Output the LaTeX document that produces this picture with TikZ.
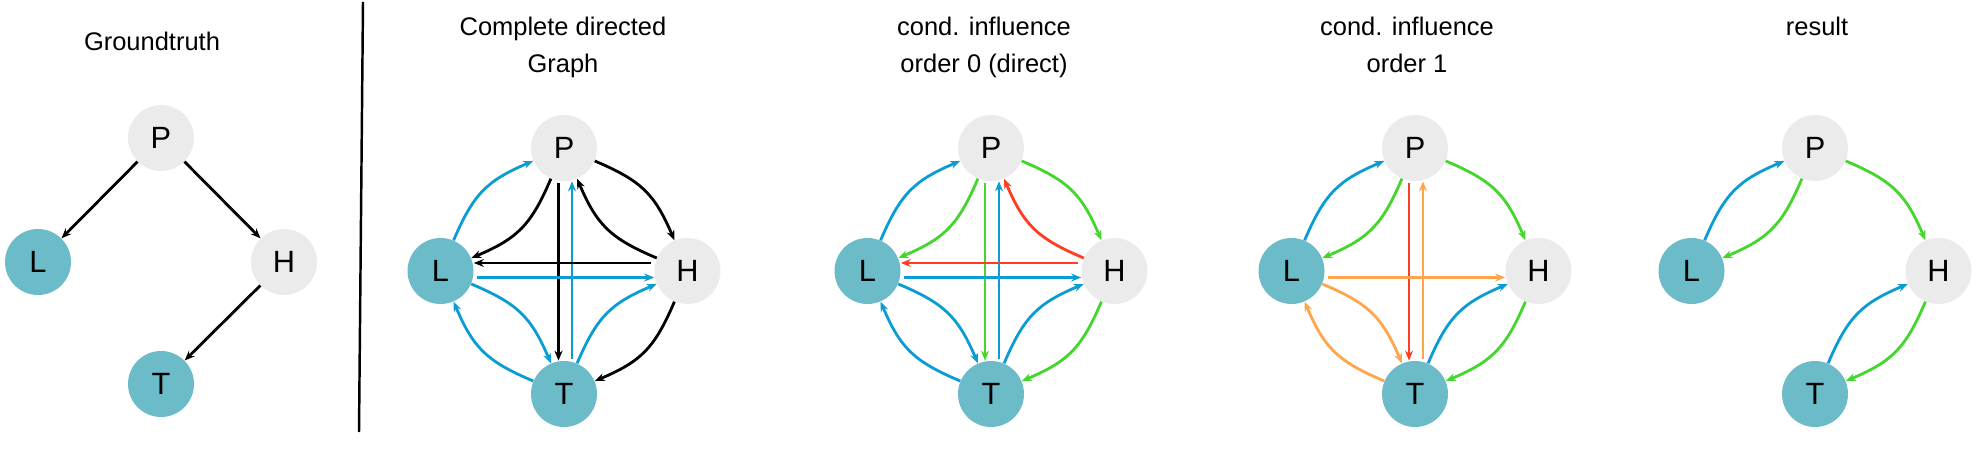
\documentclass[tikz,border=0pt]{standalone}
\usepackage{fontspec}
\setmainfont{Liberation Sans}
\usetikzlibrary{arrows.meta}

\definecolor{cblue}{HTML}{0A9CD2}
\definecolor{cgreen}{HTML}{44D62C}
\definecolor{cred}{HTML}{FF3D22}
\definecolor{corange}{HTML}{FFA64D}
\definecolor{nodeteal}{HTML}{6BBBC9}
\definecolor{nodegray}{HTML}{EBEBEB}

\newcommand{\letterfont}{\fontsize{17.5}{20}\selectfont}
\newcommand{\headfont}{\fontsize{14.5}{21}\selectfont}

\tikzset{
    obs/.style={circle, fill=nodeteal, minimum size=1.32cm, inner sep=0pt, font=\letterfont},
    hid/.style={obs, fill=nodegray},
    edge/.style={-{Stealth[length=0.2cm,width=0.16cm]}, line width=1.6pt},
    curved/.style={edge, bend left=22, looseness=1.15},
    head/.style={font=\headfont, align=center, inner sep=0pt, anchor=north}
}

\begin{document}
\begin{tikzpicture}[x=0.02cm, y=-0.02cm]
\useasboundingbox (0,0) rectangle (1986,465);

% Groundtruth
\node[head] (gt) at (152,32) {Groundtruth};
\node[hid] (P1) at (161,138) {P};
\node[obs] (L1) at (38,262) {L};
\node[hid] (H1) at (284,262) {H};
\node[obs] (T1) at (161,384) {T};
\foreach \a/\b in {P/L, P/H, H/T}
    \draw[edge] (\a1) -- (\b1);

\draw[line width=1.4pt] (363,2) -- (359,432);

% Titles
\node[head] (t2) at (563,17) {Complete directed\\Graph};
\node[head] (t3) at (984,17) {cond. influence\\order 0 (direct)};
\node[head] (t4) at (1407,17) {cond. influence\\order 1};
\node[head] (t5) at (1817,17) {result};

% Nodes of the four graphs
\foreach \g/\x in {2/564, 3/991, 4/1415, 5/1815} {
    \node[hid] (P\g) at (\x,148) {P};
    \node[obs] (L\g) at (\x-123.5,271) {L};
    \node[hid] (H\g) at (\x+123.5,271) {H};
    \node[obs] (T\g) at (\x,394) {T};
}

% Complete directed graph
\foreach \a/\b/\c in {L/P/cblue, P/L/black, P/H/black, H/P/black,
    L/T/cblue, T/L/cblue, T/H/cblue, H/T/black}
    \draw[curved, \c] (\a2) to (\b2);
\draw[edge, black, shorten <=0.04cm] ([xshift=-0.11cm]P2.south) -- ([xshift=-0.11cm]T2.north);
\draw[edge, cblue, shorten <=0.04cm] ([xshift=0.16cm]T2.north) -- ([xshift=0.16cm]P2.south);
\draw[edge, black, shorten <=0.06cm] ([yshift=0.16cm]H2.west) -- ([yshift=0.16cm]L2.east);
\draw[edge, cblue, shorten <=0.06cm] ([yshift=-0.13cm]L2.east) -- ([yshift=-0.13cm]H2.west);

% Order 0
\foreach \a/\b/\c in {L/P/cblue, P/L/cgreen, P/H/cgreen, H/P/cred,
    L/T/cblue, T/L/cblue, T/H/cblue, H/T/cgreen}
    \draw[curved, \c] (\a3) to (\b3);
\draw[edge, cgreen, shorten <=0.04cm] ([xshift=-0.12cm]P3.south) -- ([xshift=-0.12cm]T3.north);
\draw[edge, cblue, shorten <=0.04cm] ([xshift=0.16cm]T3.north) -- ([xshift=0.16cm]P3.south);
\draw[edge, cred, shorten <=0.06cm] ([yshift=0.16cm]H3.west) -- ([yshift=0.16cm]L3.east);
\draw[edge, cblue, shorten <=0.06cm] ([yshift=-0.13cm]L3.east) -- ([yshift=-0.13cm]H3.west);

% Order 1
\foreach \a/\b/\c in {L/P/cblue, P/L/cgreen, P/H/cgreen,
    L/T/corange, T/L/corange, T/H/cblue, H/T/cgreen}
    \draw[curved, \c] (\a4) to (\b4);
\draw[edge, cred, shorten <=0.04cm] ([xshift=-0.12cm]P4.south) -- ([xshift=-0.12cm]T4.north);
\draw[edge, corange, shorten <=0.04cm] ([xshift=0.16cm]T4.north) -- ([xshift=0.16cm]P4.south);
\draw[edge, corange, shorten <=0.06cm] ([yshift=-0.13cm]L4.east) -- ([yshift=-0.13cm]H4.west);

% Result
\foreach \a/\b/\c in {L/P/cblue, P/L/cgreen, P/H/cgreen, T/H/cblue, H/T/cgreen}
    \draw[curved, \c] (\a5) to (\b5);
\end{tikzpicture}
\end{document}
